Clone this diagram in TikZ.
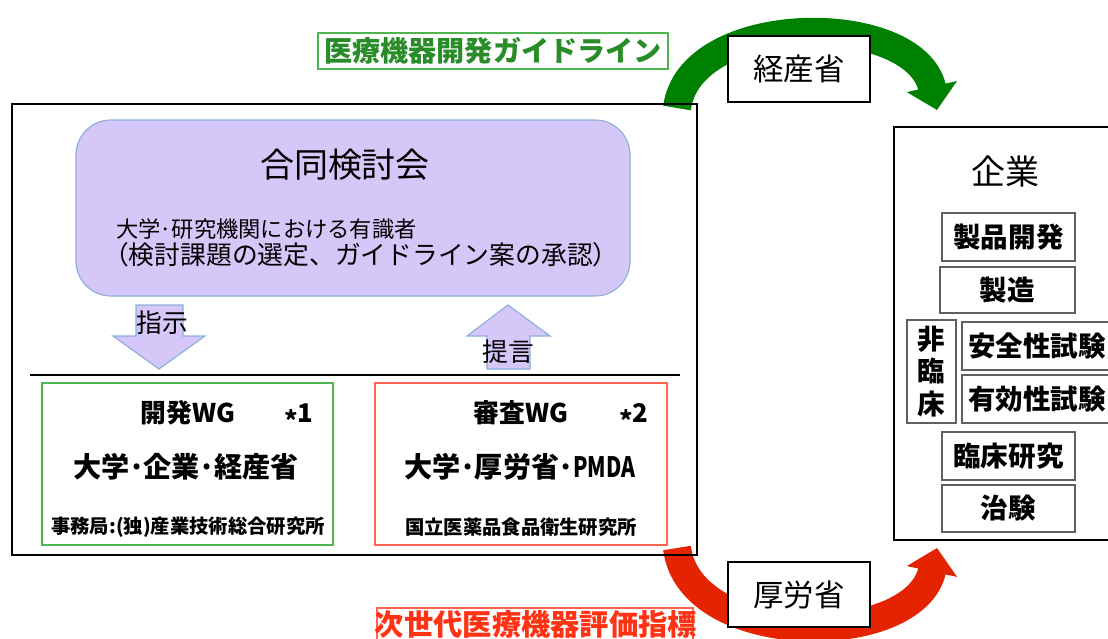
\documentclass[tikz,border=0pt]{standalone}
\usepackage{fontspec}
\setmainfont{Noto Sans CJK JP}
\usetikzlibrary{positioning,fit,arrows.meta}
\definecolor{lavender}{RGB}{214,199,249}
\definecolor{lavline}{RGB}{140,175,220}
\definecolor{arcgreen}{RGB}{0,128,0}
\definecolor{arcred}{RGB}{228,36,0}
\definecolor{wggreen}{RGB}{80,180,80}
\definecolor{wgred}{RGB}{255,100,80}
\definecolor{txtgreen}{RGB}{40,140,40}
\definecolor{txtred}{RGB}{255,50,20}
\definecolor{itemgray}{RGB}{95,95,95}
\newcommand\mdot{\makebox[0.5em]{·}}
\newcommand\note[1]{\raisebox{-0.3em}[0pt][0pt]{*}#1}

\begin{document}
\begin{tikzpicture}[x=0.03cm,y=-0.03cm,
    frame/.style={draw=black, line width=2.4pt, inner sep=0pt},
    item/.style={draw=itemgray, line width=1.3pt, inner sep=0pt},
    itemtext/.style={font=\fontsize{23.5}{27.5}\selectfont\bfseries},
    wgbox/.style={line width=1.6pt, inner sep=0pt},
    blockarrow/.style={fill=lavender, draw=lavline, line width=1pt},
    flow/.style={line width=0.84cm, -{Triangle[length=0.72cm,width=1.5cm]}},
    ministry/.style={draw=black, line width=2pt, fill=white, inner sep=0pt},
    ministrytext/.style={font=\fontsize{26}{28}\selectfont},
  ]
\useasboundingbox (0,0) rectangle (1108,639);
\clip (0,0) rectangle (1108,639);

% guideline arcs
\coordinate (gfrom) at (677,108);
\coordinate (gto) at (937,110);
\coordinate (rfrom) at (677,548);
\coordinate (rto) at (937,548);
\draw[flow, color=arcgreen] (gfrom) .. controls (690,10) and (915,10) .. (gto);
\draw[flow, color=arcred] (rfrom) .. controls (690,650) and (915,650) .. (rto);

\node[ministry, fit={(728,36) (870,102)}, label={[ministrytext]center:経産省}] (meti) {};
\node[ministry, fit={(728,562) (870,627)}, label={[ministrytext]center:厚労省}] (mhlw) {};

\node[draw=wggreen, line width=1.5pt, inner sep=0pt, fit={(318,33) (668,69)},
  label={[text=txtgreen, font=\fontsize{24}{26}\selectfont\bfseries]center:医療機器開発ガイドライン}] (devguide) {};
\node[draw=wgred, line width=1.5pt, inner sep=0pt, fit={(377,608) (693,652)}] (evalbox) {};
\node[text=txtred, font=\fontsize{25}{27}\selectfont\bfseries] (evalguide) at (536,624) {次世代医療機器評価指標};

% left panel
\node[frame, fit={(12,104) (697,555)}] (panel) {};
\node[blockarrow, rounded corners=1.05cm, inner sep=0pt, fit={(76,120) (630,296)}] (meeting) {};
\node[font=\fontsize{29}{31}\selectfont] (meetname) at (345,165) {合同検討会};
\node[anchor=west, font=\fontsize{19}{21}\selectfont] (members) at (112,229) {大学\mdot 研究機関における有識者};
\node[anchor=west, font=\fontsize{22}{24}\selectfont] (role) at (99,255) {（検討課題の選定、ガイドライン案の承認）};

\draw[blockarrow] (136,305) -- (183,305) -- (183,336) -- (205,336) -- (159,369) -- (113,336) -- (136,336) -- cycle;
\draw[blockarrow] (508,305) -- (550,336) -- (530,336) -- (530,369) -- (487,369) -- (487,336) -- (467,336) -- cycle;
\node[font=\fontsize{22}{24}\selectfont] (order) at (162,323) {指示};
\node[font=\fontsize{22}{24}\selectfont] (advice) at (508,352) {提言};
\draw[line width=1.6pt] (30,375) -- (680,375);

\node[wgbox, draw=wggreen, fit={(42,383) (333,545)}] (devwg) {};
\node[font=\fontsize{22}{24}\selectfont\bfseries] (devname) at (188,413) {開発WG};
\node[font=\fontsize{22}{24}\selectfont\bfseries] (devnote) at (299,413) {\note{1}};
\node[font=\fontsize{24}{26}\selectfont\bfseries] (devmem) at (186,467) {大学\mdot 企業\mdot 経産省};
\node[font=\fontsize{16.5}{18}\selectfont\bfseries] (devoffice) at (188,527) {事務局:(独)産業技術総合研究所};

\node[wgbox, draw=wgred, fit={(375,383) (667,545)}] (revwg) {};
\node[font=\fontsize{22}{24}\selectfont\bfseries] (revname) at (521,413) {審査WG};
\node[font=\fontsize{22}{24}\selectfont\bfseries] (revnote) at (634,413) {\note{2}};
\node[font=\fontsize{24}{26}\selectfont\bfseries] (revmem) at (520,467) {大学\mdot 厚労省\mdot \scalebox{0.75}[1]{PMDA}};
\node[font=\fontsize{16.5}{18}\selectfont\bfseries] (revoffice) at (521,527) {国立医薬品食品衛生研究所};

% company
\node[frame, fit={(894,127) (1130,540)}] (company) {};
\node[font=\fontsize{29}{31}\selectfont] (compname) at (1005,172) {企業};
\node[item, fit={(942,213) (1075,261)}, label={[itemtext]center:製品開発}] (develop) {};
\node[item, fit={(940,267) (1075,313)}, label={[itemtext]center:製造}] (make) {};
\node[item, fit={(907,320) (956,423)}, label={[itemtext, align=center]center:非\\臨\\床}] (nonclin) {};
\node[item, fit={(962,322) (1112,370)}, label={[itemtext]center:安全性試験}] (safety) {};
\node[item, fit={(962,375) (1112,423)}, label={[itemtext]center:有効性試験}] (efficacy) {};
\node[item, fit={(942,432) (1075,480)}, label={[itemtext]center:臨床研究}] (clinical) {};
\node[item, fit={(942,485) (1075,532)}, label={[itemtext]center:治験}] (trial) {};
\end{tikzpicture}
\end{document}
